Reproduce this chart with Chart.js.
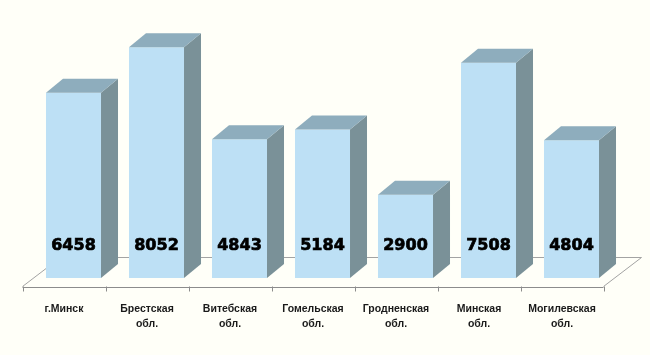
<!DOCTYPE html>
<html>
<head>
<meta charset="utf-8">
<script src="https://cdn.jsdelivr.net/npm/chart.js@4.4.0/dist/chart.umd.min.js"></script>
<style>
  html, body { margin: 0; padding: 0; background: #fffff8; }
  #wrap { width: 650px; height: 355px; }
</style>
</head>
<body>
<div id="wrap"><canvas id="c" width="650" height="355"></canvas></div>
<script>
const categories = [
  ['г.Минск'],
  ['Брестская', 'обл.'],
  ['Витебская', 'обл.'],
  ['Гомельская', 'обл.'],
  ['Гродненская', 'обл.'],
  ['Минская', 'обл.'],
  ['Могилевская', 'обл.']
];
const values = [6458, 8052, 4843, 5184, 2900, 7508, 4804];
const yMin = 0;
const yMax = 9000;

const FRONT = '#bde0f5';
const TOP = '#8eadbd';
const SIDE = '#7a9198';
const DX = 17, DY = 14;           // bar depth
const FDX = 38, FDY = 29;         // floor depth
const FOFFX = -9.5, FOFFY = 8.5;  // floor front offset from bar front

const bar3d = {
  id: 'bar3d',
  beforeDraw(chart) {
    const { ctx, width, height } = chart;
    ctx.save();
    ctx.fillStyle = '#fffff8';
    ctx.fillRect(0, 0, width, height);
    ctx.restore();
  },
  beforeDatasetsDraw(chart) {
    const { ctx, chartArea } = chart;
    const ys = chart.scales.y;
    const base = ys.getPixelForValue(0);
    const fl = chartArea.left + FOFFX, fr = chartArea.right + FOFFX;
    const fy = base + FOFFY;
    ctx.save();
    ctx.lineWidth = 1;
    ctx.strokeStyle = '#a3a3a3';
    ctx.beginPath();
    ctx.moveTo(fl, fy);
    ctx.lineTo(fl + FDX, fy - FDY);
    ctx.lineTo(fr + FDX, fy - FDY);
    ctx.lineTo(fr, fy);
    ctx.stroke();
    ctx.strokeStyle = '#8c8c8c';
    ctx.beginPath();
    ctx.moveTo(fl, Math.round(fy) + 0.5);
    ctx.lineTo(fr, Math.round(fy) + 0.5);
    ctx.stroke();
    const step = (chartArea.right - chartArea.left) / categories.length;
    ctx.beginPath();
    for (let i = 0; i <= categories.length; i++) {
      const x = Math.round(fl + i * step) + 0.5;
      ctx.moveTo(x, fy);
      ctx.lineTo(x, fy + 5);
    }
    ctx.stroke();
    ctx.restore();
  },
  afterDatasetsDraw(chart) {
    const { ctx } = chart;
    const meta = chart.getDatasetMeta(0);
    ctx.save();
    meta.data.forEach((bar, i) => {
      const p = bar.getProps(['x', 'y', 'base', 'width'], true);
      const l = p.x - p.width / 2, r = p.x + p.width / 2;
      const t = p.y, b = p.base;
      ctx.fillStyle = SIDE;
      ctx.beginPath();
      ctx.moveTo(r, t);
      ctx.lineTo(r + DX, t - DY);
      ctx.lineTo(r + DX, b - DY);
      ctx.lineTo(r, b);
      ctx.closePath();
      ctx.fill();
      ctx.fillStyle = TOP;
      ctx.beginPath();
      ctx.moveTo(l, t);
      ctx.lineTo(l + DX, t - DY);
      ctx.lineTo(r + DX, t - DY);
      ctx.lineTo(r, t);
      ctx.closePath();
      ctx.fill();
      ctx.fillStyle = '#000';
      ctx.strokeStyle = '#000';
      ctx.lineWidth = 0.7;
      ctx.font = 'bold 16px "DejaVu Sans", sans-serif';
      ctx.textAlign = 'center';
      ctx.textBaseline = 'middle';
      ctx.fillText(String(values[i]), p.x, b - 32);
      ctx.strokeText(String(values[i]), p.x, b - 32);
    });
    ctx.restore();
  }
};

new Chart(document.getElementById('c'), {
  type: 'bar',
  data: {
    labels: categories,
    datasets: [{
      data: values,
      backgroundColor: FRONT,
      borderWidth: 0,
      categoryPercentage: 1,
      barPercentage: 0.663
    }]
  },
  options: {
    responsive: false,
    animation: false,
    devicePixelRatio: 1,
    layout: { padding: { left: 32, right: 37, top: 20, bottom: 0 } },
    plugins: { legend: { display: false }, tooltip: { enabled: false } },
    scales: {
      y: { display: false, min: yMin, max: yMax },
      x: {
        grid: { display: false, drawTicks: false },
        border: { display: false },
        afterFit(axis) { axis.height = 77; },
        ticks: {
          padding: 24,
          labelOffset: -9.5,
          maxRotation: 0,
          autoSkip: false,
          color: '#1a1a1a',
          font: { family: '"Liberation Sans", Arial, sans-serif', size: 10.5, weight: 'bold', lineHeight: 1.4 }
        }
      }
    }
  },
  plugins: [bar3d]
});
</script>
</body>
</html>
